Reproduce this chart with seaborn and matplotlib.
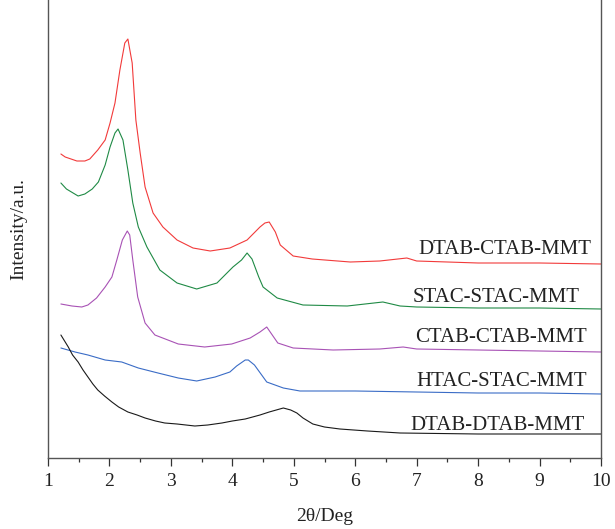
import matplotlib
matplotlib.use("Agg")
import matplotlib.pyplot as plt
import seaborn as sns
import pandas as pd
from matplotlib.ticker import MultipleLocator

# ---- data (arbitrary intensity units) ----
red_x = [1.21, 1.28, 1.47, 1.60, 1.68, 1.81, 1.93, 2.01, 2.09, 2.17, 2.25, 2.30, 2.37, 2.43, 2.50,
         2.58, 2.71, 2.87, 3.10, 3.36, 3.64, 3.96, 4.24, 4.45, 4.53, 4.60, 4.70, 4.78, 4.99, 5.30,
         5.92, 6.40, 6.84, 7.0, 8.0, 9.0, 10.0]
red_y = [304, 301, 297, 297, 299, 308, 318, 335, 355, 388, 415, 419, 395, 338, 305,
         271, 245, 231, 218, 210, 207, 210, 218, 231, 235, 236, 226, 213, 202, 199,
         196, 197, 200, 197, 195, 195, 194]

green_x = [1.21, 1.30, 1.49, 1.60, 1.72, 1.82, 1.93, 2.01, 2.09, 2.14, 2.22, 2.30, 2.38, 2.47, 2.61,
           2.82, 3.10, 3.42, 3.75, 4.01, 4.15, 4.24, 4.32, 4.43, 4.50, 4.73, 5.15, 5.87, 6.45, 6.73,
           7.0, 8.0, 9.0, 10.0]
green_y = [275, 269, 262, 264, 269, 276, 293, 311, 325, 329, 318, 288, 255, 231, 211,
           188, 175, 169, 175, 191, 198, 205, 199, 181, 171, 160, 153, 152, 156, 152,
           151, 150, 150, 149]

purple_x = [1.21, 1.39, 1.55, 1.65, 1.79, 1.93, 2.04, 2.12, 2.21, 2.29, 2.33, 2.38, 2.46, 2.58, 2.74,
            3.12, 3.55, 3.99, 4.29, 4.45, 4.56, 4.74, 4.99, 5.64, 6.40, 6.78, 7.0, 8.0, 9.0, 10.0]
purple_y = [154, 152, 151, 153, 160, 171, 181, 198, 218, 227, 223, 198, 161, 135, 123,
            114, 111, 114, 120, 126, 131, 115, 110, 108, 109, 111, 109, 108, 107, 106]

blue_x = [1.21, 1.44, 1.65, 1.93, 2.20, 2.47, 2.79, 3.12, 3.42, 3.72, 3.96, 4.07, 4.21, 4.26, 4.36,
          4.56, 4.83, 5.10, 6.0, 7.0, 8.0, 9.0, 10.0]
blue_y = [110, 106, 103, 98, 96, 90, 85, 80, 77, 81, 86, 92, 98, 98, 93,
          76, 70, 67, 67, 66, 65, 65, 64]

black_x = [1.21, 1.33, 1.40, 1.49, 1.57, 1.65, 1.73, 1.81, 1.92, 2.04, 2.15, 2.30, 2.45, 2.58, 2.75,
           2.90, 3.10, 3.39, 3.60, 3.83, 4.00, 4.21, 4.45, 4.60, 4.83, 4.95, 5.05, 5.15, 5.31, 5.50,
           5.75, 6.20, 6.73, 8.0, 10.0]
black_y = [123, 111, 103, 96, 88, 81, 74, 68, 62, 56, 51, 46, 43, 40, 37,
           35, 34, 32, 33, 35, 37, 39, 43, 46, 50, 48, 45, 40, 34, 31,
           29, 27, 25, 24, 24]

names = ["DTAB-CTAB-MMT", "STAC-STAC-MMT", "CTAB-CTAB-MMT", "HTAC-STAC-MMT", "DTAB-DTAB-MMT"]
label_x = [9.85, 9.66, 9.77, 9.77, 9.74]
label_y = [208, 161, 120, 77, 33]
colors = ["#f23a3a", "#1f8a45", "#a852b5", "#3a6cc6", "#1a1a1a"]

series = [(red_x, red_y), (green_x, green_y), (purple_x, purple_y), (blue_x, blue_y), (black_x, black_y)]
frames = []
for name, (xs, ys) in zip(names, series):
    frames.append(pd.DataFrame({"x": xs, "y": ys, "sample": name}))
df = pd.concat(frames, ignore_index=True)

sns.set_style("ticks")
plt.rcParams["font.family"] = ["Liberation Serif", "DejaVu Serif"]

fig = plt.figure(figsize=(6.15, 5.29), dpi=100)
ax = fig.add_axes([48 / 615, 1 - 458 / 529, (601 - 48) / 615, 458 / 529])

sns.lineplot(data=df, x="x", y="y", hue="sample", palette=dict(zip(names, colors)),
             hue_order=names, linewidth=0.8, legend=False, ax=ax, sort=True)

for name, lx, ly in zip(names, label_x, label_y):
    ax.text(lx, ly, name, ha="right", va="center", fontsize=15, color="#222222")

ax.set_xlim(1, 10)
ax.set_ylim(0, 458)
ax.xaxis.set_major_locator(MultipleLocator(1))
ax.xaxis.set_minor_locator(MultipleLocator(0.5))
ax.set_yticks([])
ax.tick_params(axis="x", which="major", direction="out", length=6, width=0.9,
               labelsize=14, pad=5, colors="#333333", labelcolor="#222222")
ax.tick_params(axis="x", which="minor", direction="out", length=3, width=0.9, colors="#333333")
for s in ["left", "right", "bottom"]:
    ax.spines[s].set_visible(True)
    ax.spines[s].set_color("#555555")
    ax.spines[s].set_linewidth(1.0)
ax.spines["top"].set_visible(False)

ax.set_xlabel("2θ/Deg", fontsize=14, labelpad=13, color="#222222")
ax.set_ylabel("Intensity/a.u.", fontsize=14, labelpad=15, color="#222222")

fig.savefig("out.png", dpi=100)
